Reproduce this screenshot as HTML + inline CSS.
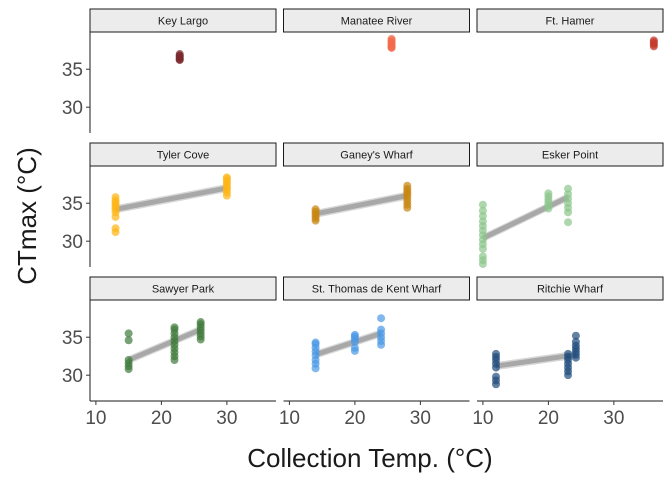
<!DOCTYPE html>
<html><head><meta charset="utf-8"><style>
body{margin:0;background:#fff}
svg{display:block;font-family:"Liberation Sans",Arial,sans-serif}
</style></head><body>
<svg id="chart" width="672" height="480" xmlns="http://www.w3.org/2000/svg"></svg>
<script>
const sites = ["Key Largo","Manatee River","Ft. Hamer","Tyler Cove","Ganey's Wharf","Esker Point","Sawyer Park","St. Thomas de Kent Wharf","Ritchie Wharf"];
const colors = ["#7a2a2c","#f26a4b","#c43a2c","#fdb515","#c7860f","#8cc68c","#3f7a3b","#4a98e6","#1f4b7c"];
const groupTemps = [[22.8],[25.6],[36.1],[13,30],[14,28],[10,20,23],[15,22,26],[14,20,24],[12,23,24.2]];
const groupValues = [
 [[36.2,36.4,36.6,36.8,37.0,36.3,36.7]],
 [[37.8,38.0,38.2,38.4,38.6,38.8,39.0,37.9]],
 [[38.0,38.2,38.4,38.6,38.8]],
 [[31.2,31.7,33.2,33.8,34.2,34.5,34.8,35.1,35.4,35.8],[36.0,36.4,36.8,37.0,37.3,37.6,37.9,38.2,38.4]],
 [[32.7,33.0,33.3,33.6,33.9,34.2],[34.4,34.8,35.2,35.6,36.0,36.3,36.6,36.9,37.3]],
 [[27.0,27.5,28.0,29.0,29.6,30.2,30.8,31.4,32.0,32.6,33.3,34.0,34.8],[34.3,34.7,35.1,35.5,35.9,36.3],[32.5,33.8,34.4,35.0,35.6,36.2,36.9]],
 [[30.8,31.2,31.6,32.0,34.6,35.5],[32.0,32.5,33.0,33.5,34.0,34.5,35.0,35.5,36.0,36.3],[34.7,35.1,35.5,35.9,36.3,36.7,37.0]],
 [[30.9,31.5,32.0,32.6,33.1,33.6,34.1,34.3],[33.2,33.6,34.4,34.8,35.1,35.3],[34.0,34.5,35.0,35.5,36.0,37.5]],
 [[28.8,29.3,29.8,31.0,31.5,32.0,32.4,32.8],[30.0,30.5,31.0,31.5,32.0,32.4,32.8],[32.3,32.7,33.1,33.5,33.9,34.4,35.2]]
];
const fitStart = [null,null,null,34.2,33.6,30.4,32.0,32.7,31.2];
const fitEnd = [null,null,null,37.0,36.0,35.8,36.0,35.5,32.7];
const xTicks = [10,20,30];
const yTicks = [30,35];

const NS="http://www.w3.org/2000/svg";
const svg=document.getElementById('chart');
function mk(t,a,p){const e=document.createElementNS(NS,t);for(const k in a)e.setAttribute(k,a[k]);(p||svg).appendChild(e);return e;}
const colL=[90,283.5,477], colW=186, rowT=[32,166,300], rowH=101;
const xMin=9.1, xMax=37.5, yMin=26.6, yMax=39.9;
for(let i=0;i<9;i++){
  const r=Math.floor(i/3), c=i%3;
  const L=colL[c], T=rowT[r];
  const xs=v=>L+(v-xMin)/(xMax-xMin)*colW;
  const ys=v=>T+rowH-(v-yMin)/(yMax-yMin)*rowH;
  const g=mk('g',{});
  
  
  const s=mk('rect',{x:L,y:T-23,width:colW,height:23,fill:'#ececec',stroke:'#1a1a1a','stroke-width':1},g);
  
  
  const st=mk('text',{x:L+colW/2,y:T-7.5,'text-anchor':'middle','font-size':11,fill:'#1a1a1a'},g);
  st.textContent=sites[i];
  
  
  if(c===0){
    mk('line',{x1:L,y1:T,x2:L,y2:T+rowH,stroke:'#1a1a1a','stroke-width':1},g);
    yTicks.forEach(t=>{
      mk('line',{x1:L-4,y1:ys(t),x2:L,y2:ys(t),stroke:'#333'},g);
      const tx=mk('text',{x:L-7,y:ys(t)+7,'text-anchor':'end','font-size':19,fill:'#4d4d4d'},g);
      tx.textContent=t;
      
      
    });
  }
  if(r===2){
    mk('line',{x1:L,y1:T+rowH,x2:L+colW,y2:T+rowH,stroke:'#1a1a1a','stroke-width':1},g);
    xTicks.forEach(t=>{
      mk('line',{x1:xs(t),y1:T+rowH,x2:xs(t),y2:T+rowH+4,stroke:'#333'},g);
      const tx=mk('text',{x:xs(t),y:T+rowH+23,'text-anchor':'middle','font-size':19,fill:'#4d4d4d'},g);
      tx.textContent=t;
      
      
    });
  }
  const tmps=groupTemps[i];
  if(fitStart[i]!==null){
    const x0=tmps[0], x1=tmps[tmps.length-1];
    const band=mk('polygon',{points:`${xs(x0)},${ys(fitStart[i])-4} ${xs(x1)},${ys(fitEnd[i])-4} ${xs(x1)},${ys(fitEnd[i])+4} ${xs(x0)},${ys(fitStart[i])+4}`,fill:'#bdbdbd',opacity:0.6},g);
    
    
    const ln=mk('line',{x1:xs(x0),y1:ys(fitStart[i]),x2:xs(x1),y2:ys(fitEnd[i]),stroke:'#a8a8a8','stroke-width':5},g);
    
    
  }
  tmps.forEach((tx,j)=>{
    groupValues[i][j].forEach(v=>{
      const p=mk('circle',{cx:xs(tx),cy:ys(v),r:4,fill:colors[i],'fill-opacity':0.7},g);
      
      
    });
  });
}
const xt=mk('text',{x:370,y:467,'text-anchor':'middle','font-size':26,fill:'#1a1a1a'});
xt.textContent='Collection Temp. (°C)';


const yt=mk('text',{x:0,y:0,'text-anchor':'middle','font-size':26,fill:'#1a1a1a',transform:'translate(36,216) rotate(-90)'});
yt.textContent='CTmax (°C)';


</script>
</body></html>
